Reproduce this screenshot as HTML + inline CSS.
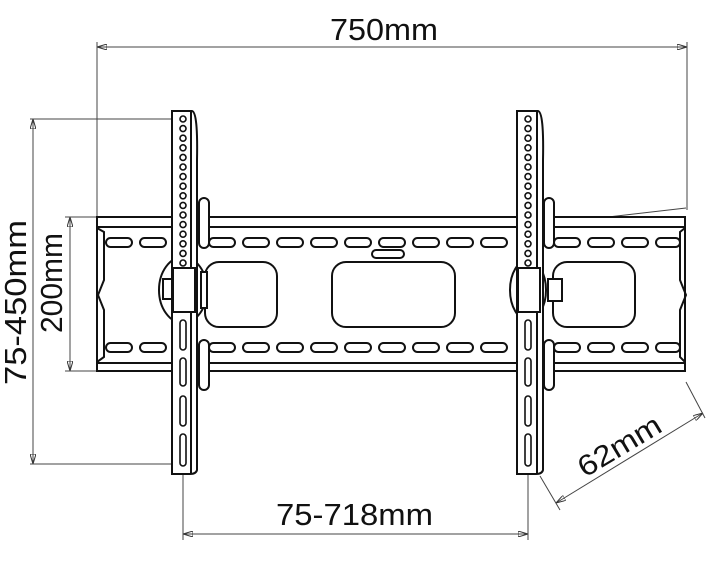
<!DOCTYPE html>
<html><head><meta charset="utf-8"><style>
html,body{margin:0;padding:0;background:#fff}
svg{display:block}
text{font-family:"Liberation Sans",Arial,sans-serif;fill:#111}
</style></head><body>
<svg width="710" height="565" viewBox="0 0 710 565" xmlns="http://www.w3.org/2000/svg">
<defs>
<marker id="ar" viewBox="0 0 10 6" refX="10" refY="3" markerWidth="10" markerHeight="6" orient="auto-start-reverse" markerUnits="userSpaceOnUse">
<path d="M0,0 L10,3 L0,6 z" fill="none" stroke="#333" stroke-width="1"/>
</marker>
</defs>
<g stroke="#444" stroke-width="1" fill="none">
<line x1="97" y1="47" x2="687" y2="47" marker-start="url(#ar)" marker-end="url(#ar)"/>
<line x1="97" y1="42" x2="97" y2="218"/>
<line x1="687" y1="42" x2="687" y2="210"/>
<line x1="33" y1="119" x2="33" y2="464" marker-start="url(#ar)" marker-end="url(#ar)"/>
<line x1="30" y1="119" x2="180" y2="119"/>
<line x1="30" y1="464" x2="180" y2="464"/>
<line x1="70" y1="217" x2="70" y2="371" marker-start="url(#ar)" marker-end="url(#ar)"/>
<line x1="65" y1="217" x2="97" y2="217"/>
<line x1="65" y1="371" x2="97" y2="371"/>
<line x1="183" y1="534" x2="528" y2="534" marker-start="url(#ar)" marker-end="url(#ar)"/>
<line x1="183" y1="470" x2="183" y2="540"/>
<line x1="528" y1="470" x2="528" y2="540"/>
<line x1="556" y1="503" x2="703" y2="413" marker-start="url(#ar)" marker-end="url(#ar)"/>
<line x1="540" y1="476" x2="560" y2="510"/>
<line x1="686" y1="382" x2="705" y2="418"/>
<line x1="548" y1="224" x2="686" y2="208"/>
</g>
<text x="330" y="40" font-size="31" textLength="108" lengthAdjust="spacingAndGlyphs">750mm</text>
<text x="276" y="525" font-size="31" textLength="157" lengthAdjust="spacingAndGlyphs">75-718mm</text>
<text transform="translate(26,385) rotate(-90)" font-size="31" textLength="165" lengthAdjust="spacingAndGlyphs">75-450mm</text>
<text transform="translate(62,333) rotate(-90)" font-size="31" textLength="100" lengthAdjust="spacingAndGlyphs">200mm</text>
<text transform="translate(585,478) rotate(-31)" font-size="29" textLength="92" lengthAdjust="spacingAndGlyphs">62mm</text>

<g stroke="#111" stroke-width="2" fill="#fff">
<rect x="97" y="217" width="588" height="154"/>
<line x1="97" y1="227" x2="685" y2="227"/>
<line x1="97" y1="363" x2="685" y2="363"/>
<path d="M97,228 L104,232 L104,280 L98,295 L104,310 L104,357 L97,362" fill="none"/>
<path d="M685,228 L680,232 L680,280 L686,295 L680,310 L680,357 L685,362" fill="none"/>
<g id="slots">
<rect x="106" y="238" width="26" height="9" rx="4.5"/><rect x="140" y="238" width="26" height="9" rx="4.5"/>
<rect x="209" y="238" width="26" height="9" rx="4.5"/><rect x="243" y="238" width="26" height="9" rx="4.5"/>
<rect x="277" y="238" width="26" height="9" rx="4.5"/><rect x="311" y="238" width="26" height="9" rx="4.5"/>
<rect x="345" y="238" width="26" height="9" rx="4.5"/><rect x="379" y="238" width="26" height="9" rx="4.5"/>
<rect x="413" y="238" width="26" height="9" rx="4.5"/><rect x="447" y="238" width="26" height="9" rx="4.5"/>
<rect x="481" y="238" width="26" height="9" rx="4.5"/>
<rect x="554" y="238" width="26" height="9" rx="4.5"/><rect x="588" y="238" width="26" height="9" rx="4.5"/>
<rect x="622" y="238" width="26" height="9" rx="4.5"/><rect x="656" y="238" width="24" height="9" rx="4.5"/>
</g>
<use href="#slots" y="105"/>
<rect x="205" y="262" width="72" height="65" rx="14"/>
<rect x="332" y="262" width="123" height="65" rx="14"/>
<rect x="553" y="262" width="82" height="65" rx="14"/>
<rect x="372" y="250" width="32" height="8" rx="4"/>
<rect x="199" y="198" width="10" height="50" rx="5"/>
<rect x="199" y="340" width="10" height="50" rx="5"/>
<ellipse cx="183" cy="290" rx="24" ry="33"/>
<rect x="163" y="279" width="12" height="20"/>
<path d="M172,111 L192,111 Q198,112 197,160 L197,470 Q196,474 190,474 L172,474 Z"/>
<line x1="191" y1="111" x2="191" y2="474"/>
<rect x="173" y="268" width="22" height="44"/>
<rect x="201" y="272" width="6" height="36"/>
<rect x="544" y="198" width="10" height="50" rx="5"/>
<rect x="544" y="340" width="10" height="50" rx="5"/>
<ellipse cx="528" cy="290" rx="18" ry="30"/>
<rect x="548" y="279" width="14" height="22"/>
<path d="M517,111 L538,111 Q544,112 543,160 L543,470 Q542,474 536,474 L517,474 Z"/>
<line x1="537" y1="111" x2="537" y2="474"/>
<rect x="518" y="268" width="22" height="44"/>
</g>
<g stroke="#111" stroke-width="1.6" fill="#fff">
<g id="holes">
<circle cx="183" cy="119" r="3"/><circle cx="183" cy="128.6" r="3"/><circle cx="183" cy="138.2" r="3"/><circle cx="183" cy="147.8" r="3"/>
<circle cx="183" cy="157.4" r="3"/><circle cx="183" cy="167" r="3"/><circle cx="183" cy="176.6" r="3"/><circle cx="183" cy="186.2" r="3"/>
<circle cx="183" cy="195.8" r="3"/><circle cx="183" cy="205.4" r="3"/><circle cx="183" cy="215" r="3"/><circle cx="183" cy="224.6" r="3"/>
<circle cx="183" cy="234.2" r="3"/><circle cx="183" cy="243.8" r="3"/><circle cx="183" cy="253.4" r="3"/><circle cx="183" cy="263" r="3"/>
<rect x="180" y="320" width="6" height="30" rx="3"/><rect x="180" y="358" width="6" height="28" rx="3"/>
<rect x="180" y="396" width="6" height="30" rx="3"/><rect x="180" y="434" width="6" height="32" rx="3"/>
</g>
<use href="#holes" x="345"/>
</g>
</svg>
</body></html>
